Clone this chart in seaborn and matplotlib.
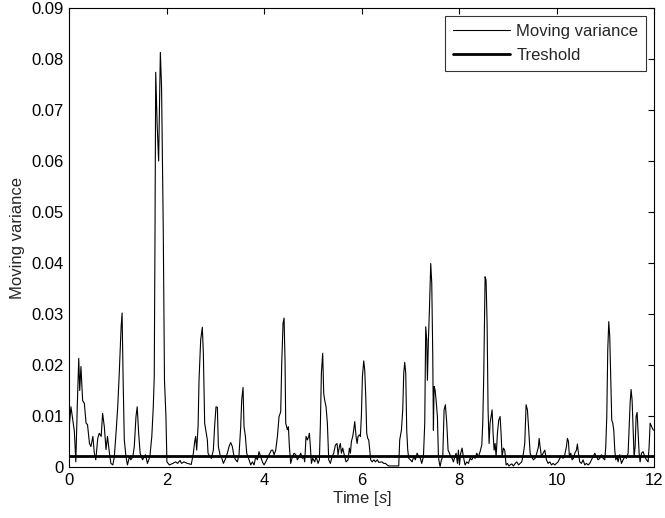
import numpy as np
import pandas as pd
import seaborn as sns
import matplotlib
matplotlib.use("Agg")
import matplotlib.pyplot as plt

# time stamps [s] of the moving-variance trace
time_s = [
    0.00, 0.03, 0.06, 0.10, 0.13, 0.16, 0.19, 0.21, 0.235, 0.27, 0.305, 0.34, 0.37, 0.41, 0.44, 0.48, 0.51, 0.54,
    0.58, 0.61, 0.65, 0.68, 0.715, 0.75, 0.78, 0.82, 0.85, 0.89, 0.92, 0.955, 0.99, 1.02, 1.06, 1.08, 1.10, 1.125,
    1.16, 1.19, 1.23, 1.26, 1.30, 1.33, 1.365, 1.39, 1.42, 1.45, 1.50, 1.56, 1.60, 1.65, 1.69, 1.72, 1.74, 1.755,
    1.77, 1.80, 1.83, 1.865, 1.89, 1.925, 1.95, 1.98, 2.00, 2.05, 2.12, 2.18, 2.22, 2.27, 2.30,
    2.35, 2.42, 2.50, 2.543, 2.57, 2.59, 2.611, 2.64, 2.659, 2.693, 2.727, 2.748, 2.775, 2.796, 2.83, 2.844, 2.885,
    2.912, 2.953, 2.981, 3.008, 3.036, 3.056, 3.09, 3.118, 3.159, 3.207, 3.241, 3.275, 3.309, 3.343, 3.378, 3.412,
    3.446, 3.48, 3.515, 3.535, 3.563, 3.583, 3.611, 3.638, 3.686, 3.72, 3.755, 3.789, 3.823, 3.857, 3.891, 3.925,
    3.96, 3.994, 4.049, 4.097, 4.145, 4.172, 4.20, 4.234, 4.268, 4.302, 4.336, 4.357, 4.384, 4.405, 4.425, 4.439,
    4.473, 4.494, 4.514, 4.541, 4.576, 4.61, 4.644, 4.678, 4.713, 4.747, 4.781,
    4.808, 4.829, 4.856, 4.884, 4.911, 4.925, 4.945, 4.966, 4.993, 5.034, 5.062, 5.103, 5.13, 5.151, 5.171, 5.198,
    5.219, 5.239, 5.267, 5.294, 5.322, 5.356, 5.39, 5.424, 5.459, 5.493, 5.513, 5.541, 5.561, 5.582, 5.609, 5.65,
    5.678, 5.719, 5.746, 5.767, 5.787, 5.815, 5.835, 5.856, 5.87, 5.883, 5.904, 5.924, 5.952, 5.972, 5.993, 6.013,
    6.041, 6.061, 6.082, 6.102, 6.123, 6.143, 6.164, 6.184, 6.212, 6.25, 6.28, 6.32, 6.349, 6.417, 6.45, 6.486,
    6.52, 6.554, 6.622, 6.759, 6.779, 6.814, 6.841, 6.862, 6.882, 6.903, 6.923, 6.944, 6.965, 6.999, 7.033, 7.067,
    7.101, 7.136, 7.17,
    7.204, 7.231, 7.266, 7.293, 7.313, 7.334, 7.348, 7.368, 7.389, 7.416, 7.437, 7.457, 7.471, 7.485, 7.505, 7.526,
    7.553, 7.574, 7.594, 7.608, 7.635, 7.663, 7.69, 7.717, 7.745, 7.772, 7.8, 7.827, 7.854, 7.882, 7.909, 7.937,
    7.964, 7.984, 8.005, 8.032, 8.059, 8.087, 8.121, 8.155, 8.19, 8.224, 8.258, 8.292, 8.327, 8.361, 8.395, 8.429,
    8.464, 8.484, 8.505, 8.532, 8.552, 8.573, 8.593, 8.614, 8.634, 8.655, 8.676, 8.696, 8.717, 8.737, 8.758, 8.785,
    8.812, 8.84, 8.86, 8.881, 8.908, 8.935, 8.963, 8.99, 9.02, 9.045, 9.08, 9.113, 9.15, 9.182, 9.22, 9.25, 9.285,
    9.319, 9.346, 9.374, 9.401, 9.428, 9.456, 9.49, 9.524, 9.559, 9.593,
    9.627, 9.641, 9.661, 9.689, 9.723, 9.757, 9.791, 9.825, 9.86, 9.894, 9.928, 9.962, 9.996, 10.031, 10.065,
    10.099, 10.133, 10.168, 10.202, 10.222, 10.243, 10.263, 10.29, 10.318, 10.345, 10.373, 10.407, 10.427, 10.448,
    10.475, 10.51, 10.544, 10.578, 10.612, 10.647, 10.681, 10.715, 10.749, 10.784, 10.818, 10.852, 10.886, 10.92,
    10.955, 10.989, 11.009, 11.03, 11.05, 11.071, 11.091, 11.112, 11.132, 11.153, 11.174, 11.194, 11.215, 11.242,
    11.262, 11.296, 11.331, 11.365, 11.399, 11.434, 11.468, 11.488, 11.509, 11.529, 11.55, 11.571, 11.591, 11.612,
    11.632, 11.653, 11.673, 11.694, 11.714, 11.742, 11.776, 11.81, 11.844, 11.879, 11.899, 11.92, 11.947, 11.981,
    12.0,
]

moving_var = [
    .0085, .0118, .0098, .0070, .0010, .0120, .0213, .0150, .0197, .0130, .0125, .0086, .0083, .0046, .0040, .0060,
    .0027, .0014, .0056, .0066, .0060, .0105, .0079, .0034, .0060, .0027, .0007, .0004, .0020, .0066, .0118, .0180,
    .0275, .0302, .0177, .0053, .0020, .0004, .0020, .0014, .0020, .0040, .0099, .0118, .0066, .0027, .0014, .0024,
    .0007, .0020, .0060, .0118, .0177, .0450, .0774, .0670, .0600, .0813, .0745, .0465, .0170, .0099, .0010, .0004,
    .0007, .0010, .0007, .0013, .0007,
    .0010, .0007, .0005, .0027, .0050, .0060, .0033, .0080, .0170, .0249, .0274, .0223, .0086, .0073, .0053, .0027,
    .0020, .0017, .0033, .0082, .0118, .0117, .0040, .0024, .0020, .0007, .0017, .0027, .0040, .0048, .0040, .0020,
    .0014, .0010, .0024, .0079, .0131, .0156, .0079, .0060, .0027, .0014, .0004, .0010, .0004, .0020, .0014, .0030,
    .0020, .0010, .0004, .0014, .0024, .0033, .0033, .0024, .0033, .0060, .0099, .0108, .0203, .0282, .0292, .0207,
    .0086, .0073, .0079, .0040, .0007, .0020, .0027, .0024, .0014, .0020, .0027, .0017,
    .0020, .0010, .0060, .0053, .0060, .0066, .0040, .0007, .0017, .0010, .0020, .0007, .0014, .0086, .0184, .0223,
    .0144, .0131, .0118, .0086, .0014, .0007, .0020, .0027, .0043, .0046, .0024, .0040, .0046, .0027, .0037, .0020,
    .0010, .0014, .0037, .0027, .0050, .0060, .0073, .0089, .0073, .0060, .0046, .0060, .0063, .0060, .0102, .0177,
    .0208, .0190, .0138, .0066, .0056, .0053, .0033, .0014, .0010, .0014, .0010, .0014, .0009, .0010, .0007, .0007,
    .0004, .0002, .0002, .0002, .0053, .0072, .0112, .0184, .0205, .0184, .0072, .0033, .0017, .0014, .0010, .0020,
    .0014, .0027, .0020,
    .0017, .0007, .0020, .0086, .0275, .0249, .0170, .0249, .0308, .0399, .0360, .0223, .0072, .0158, .0151, .0131,
    .0099, .0020, .0007, .0001, .0014, .0020, .0112, .0122, .0086, .0033, .0027, .0020, .0017, .0010, .0020, .0027,
    .0007, .0033, .0004, .0027, .0037, .0020, .0004, .0010, .0007, .0017, .0014, .0020, .0017, .0027, .0020, .0030,
    .0043, .0086, .0184, .0373, .0366, .0282, .0112, .0046, .0086, .0099, .0112, .0066, .0033, .0046, .0020, .0066,
    .0092, .0099, .0066, .0020, .0037, .0033, .0004, .0007, .0002, .0004, .0006, .0002, .0007, .0010, .0004, .0007,
    .0010, .0027, .0046, .0122, .0112, .0072, .0027, .0020, .0014, .0017, .0027,
    .0040, .0056, .0040, .0020, .0027, .0033, .0014, .0007, .0010, .0004, .0007, .0004, .0007, .0010, .0017, .0020,
    .0017, .0024, .0040, .0056, .0050, .0020, .0027, .0014, .0017, .0027, .0033, .0045, .0027, .0010, .0007, .0014,
    .0004, .0007, .0004, .0007, .0014, .0020, .0027, .0020, .0014, .0017, .0024, .0017, .0014, .0040, .0099, .0229,
    .0285, .0256, .0171, .0092, .0086, .0072, .0033, .0014, .0020, .0010, .0024, .0007, .0014, .0020, .0017, .0027,
    .0073, .0125, .0152, .0131, .0073, .0020, .0040, .0099, .0107, .0066, .0027, .0010, .0027, .0030, .0020, .0014,
    .0010, .0040, .0086, .0080, .0073, .0072,
]

threshold = 0.0022
x_ticks = [0, 2, 4, 6, 8, 10, 12]
y_ticks = [0, 0.01, 0.02, 0.03, 0.04, 0.05, 0.06, 0.07, 0.08, 0.09]

df = pd.DataFrame({"time": time_s, "var": moving_var})
thr = pd.DataFrame({"time": [time_s[0], time_s[-1]], "var": [threshold, threshold]})

sns.set_theme(style="white")
plt.rcParams["font.family"] = ["Liberation Sans", "DejaVu Sans"]
plt.rcParams["mathtext.fontset"] = "custom"
plt.rcParams["mathtext.rm"] = "Liberation Sans"
plt.rcParams["mathtext.it"] = "Liberation Sans:italic"

fig = plt.figure(figsize=(6.65, 5.18), dpi=100)
ax = fig.add_axes([0.1045, 0.0985, 0.879, 0.886])

sns.lineplot(data=df, x="time", y="var", color="black", linewidth=0.8, ax=ax, label="Moving variance")
sns.lineplot(data=thr, x="time", y="var", color="black", linewidth=2.0, ax=ax, label="Treshold")

ax.set_xlim(0, 12)
ax.set_ylim(0, 0.09)
ax.set_xticks(x_ticks)
ax.set_yticks(y_ticks)
ax.set_xticklabels([str(t) for t in x_ticks])
ax.set_yticklabels(["0"] + [f"{v:.2f}" for v in y_ticks[1:]])
ax.tick_params(direction="in", top=True, right=True, length=4, width=0.8,
               labelsize=12, colors="black", pad=4)
for s in ax.spines.values():
    s.set_color("black")
    s.set_linewidth(0.8)

ax.set_xlabel("Time [$\\mathit{s}$]", fontsize=12, labelpad=1)
ax.set_ylabel("Moving variance", fontsize=12, labelpad=5)

leg = ax.legend(loc="upper right", fontsize=12, frameon=True, fancybox=False,
                handlelength=3.4, handletextpad=0.4, labelspacing=0.55,
                borderaxespad=0.5, borderpad=0.45)
leg.get_frame().set_edgecolor("black")
leg.get_frame().set_linewidth(0.8)

fig.savefig("out.png", dpi=100, facecolor="white")
